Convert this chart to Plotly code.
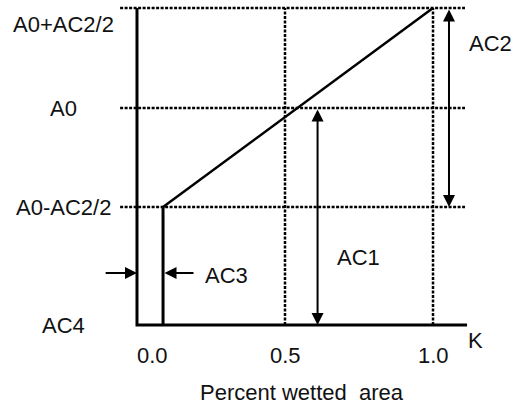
import plotly.graph_objects as go

# ---- data ----
level_labels = ["AC4", "A0-AC2/2", "A0", "A0+AC2/2"]
level_values = [0.0, 1.18, 2.17, 3.17]
x_ticks = [0.0, 0.5, 1.0]
x_tick_labels = ["0.0", "0.5", "1.0"]
k_start = 0.088          # AC3 offset
k_end = 1.0
k_axis_end = 1.115
grid_x_start = -0.057
grid_x_end = 1.108
ac1_k = 0.61
ac2_k = 1.054

low, mid, high = level_values[1], level_values[2], level_values[3]

FONT = "Liberation Sans, Arial, sans-serif"
FS = 22

fig = go.Figure()

# dotted horizontal reference lines
for v in level_values[1:]:
    fig.add_trace(go.Scatter(x=[grid_x_start, grid_x_end], y=[v, v], mode="lines",
                             line=dict(color="black", width=2.5, dash="3px,1.5px"),
                             hoverinfo="skip", showlegend=False))
# dotted vertical reference lines
for k in x_ticks[1:]:
    fig.add_trace(go.Scatter(x=[k, k], y=[0, high], mode="lines",
                             line=dict(color="black", width=2.5, dash="3px,1.5px"),
                             hoverinfo="skip", showlegend=False))

# axes lines
fig.add_trace(go.Scatter(x=[0, 0, k_axis_end], y=[high, 0, 0], mode="lines",
                         line=dict(color="black", width=3),
                         hoverinfo="skip", showlegend=False))
# AC3 vertical
fig.add_trace(go.Scatter(x=[k_start, k_start], y=[0, low], mode="lines",
                         line=dict(color="black", width=3),
                         hoverinfo="skip", showlegend=False))
# main ramp
fig.add_trace(go.Scatter(x=[k_start, k_end], y=[low, high], mode="lines",
                         line=dict(color="black", width=2.5),
                         hoverinfo="skip", showlegend=False))

ann = []
# level labels (left)
for lab, v in zip(level_labels, level_values):
    ann.append(dict(x=-0.247, y=v, text=lab, showarrow=False, xanchor="center",
                    yanchor="middle", yshift=(-16 if lab == "A0+AC2/2" else 0)))
# x tick labels
for k, lab in zip(x_ticks, x_tick_labels):
    ann.append(dict(x=k, y=-0.3, text=lab, showarrow=False, xanchor="center",
                    yanchor="middle", xshift=(16 if k == 0 else 0)))

# arrows
arrow_common = dict(text="", showarrow=True, axref="x", ayref="y", xref="x", yref="y",
                    arrowhead=2, arrowsize=1.2, arrowwidth=2, arrowcolor="black")
ann.append(dict(x=ac2_k, y=low, ax=ac2_k, ay=high, arrowside="end+start", **arrow_common))
ann.append(dict(x=ac1_k, y=0, ax=ac1_k, ay=mid, arrowside="end+start", **arrow_common))
ann.append(dict(x=0, y=0.52, ax=-0.111, ay=0.52, **arrow_common))
ann.append(dict(x=k_start + 0.005, y=0.52, ax=0.196, ay=0.52, **arrow_common))

# text labels
ann.append(dict(x=1.193, y=2.82, text="AC2", showarrow=False))
ann.append(dict(x=0.747, y=0.68, text="AC1", showarrow=False))
ann.append(dict(x=0.304, y=0.50, text="AC3", showarrow=False))
ann.append(dict(x=1.142, y=-0.15, text="K", showarrow=False))
ann.append(dict(x=0.557, y=-0.67, text="Percent wetted\u00a0 area", showarrow=False))

fig.update_layout(
    width=515, height=405, autosize=False,
    margin=dict(l=0, r=0, t=0, b=0),
    paper_bgcolor="white", plot_bgcolor="white",
    font=dict(family=FONT, size=FS, color="#111111"),
    xaxis=dict(range=[-0.4628, 1.277], visible=False, fixedrange=True),
    yaxis=dict(range=[-0.8, 3.25], visible=False, fixedrange=True),
    annotations=ann,
    showlegend=False,
)

fig.write_html("out.html")
